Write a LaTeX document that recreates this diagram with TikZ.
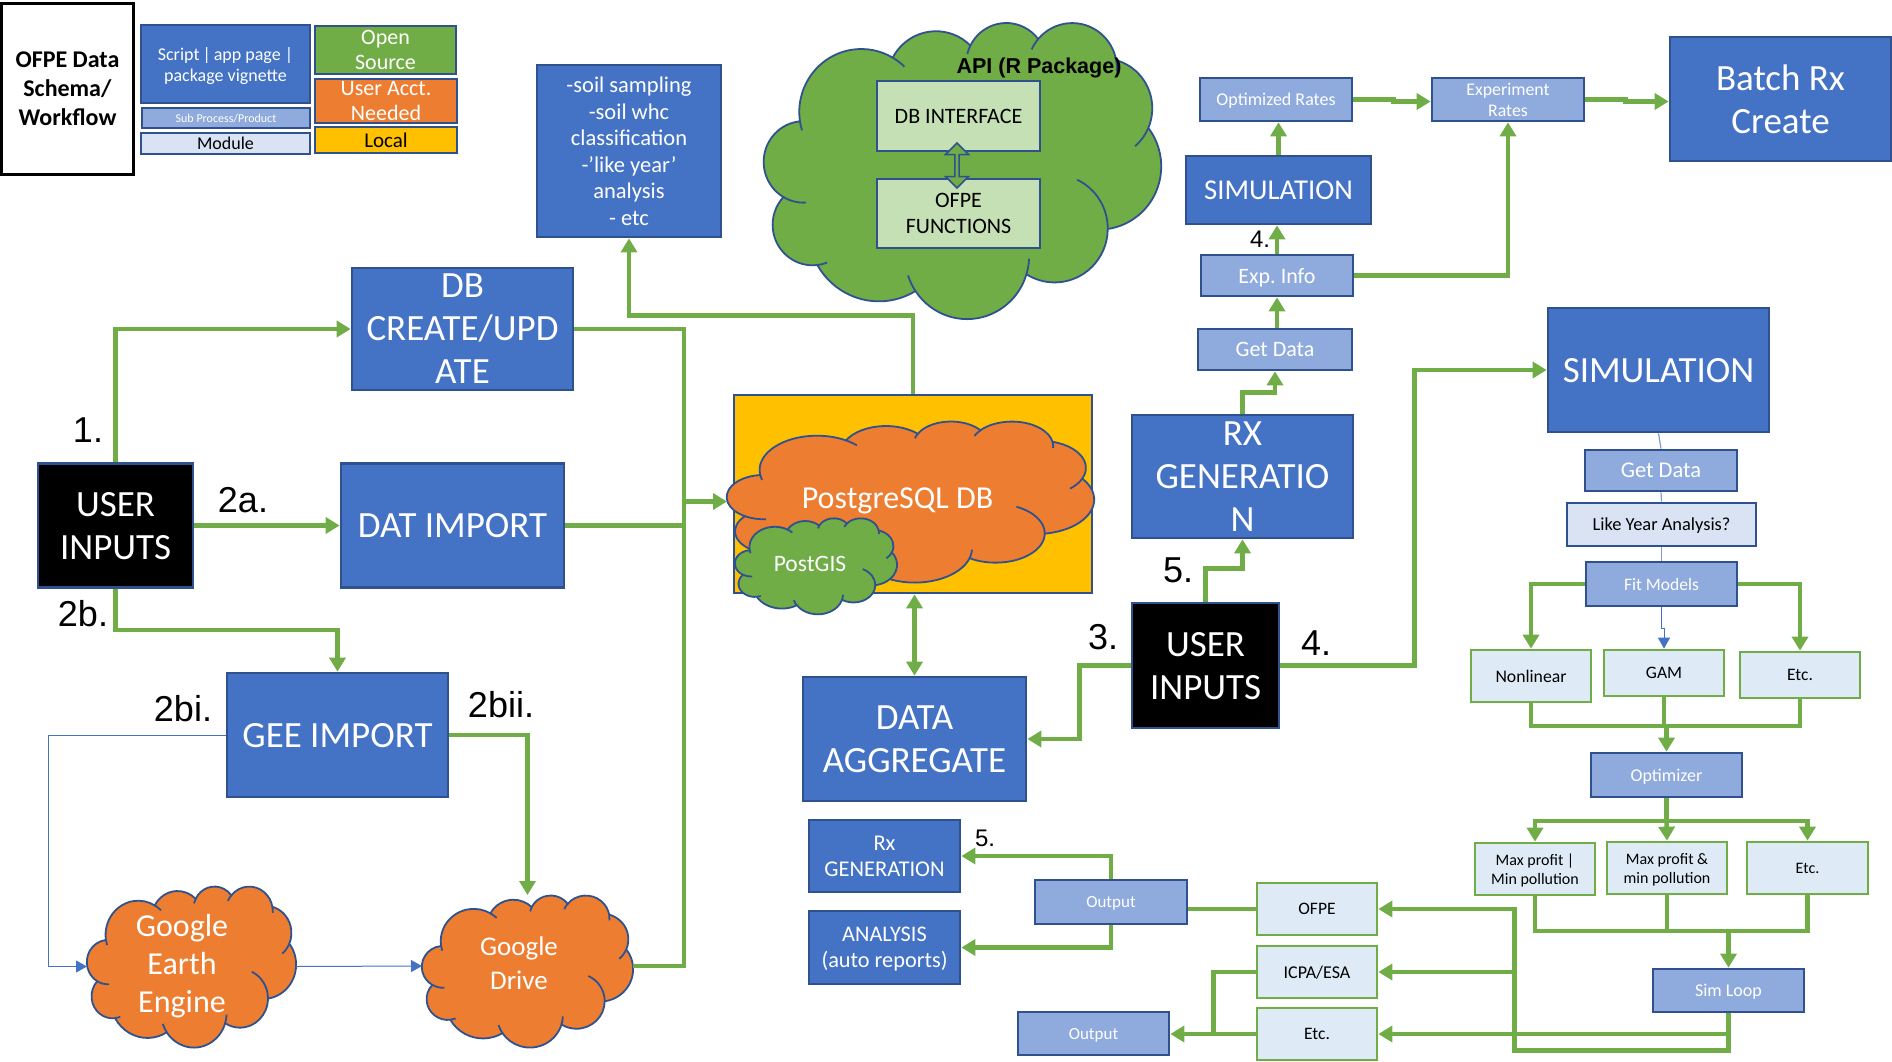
\documentclass[tikz,border=0pt]{standalone}
\usepackage{fontspec}
\setmainfont{Carlito}
\newfontfamily\arialfont{Liberation Sans}
\usetikzlibrary{arrows.meta,calc,shapes.arrows}
\definecolor{mainblue}{HTML}{4472C4}
\definecolor{edgeblue}{HTML}{2F528F}
\definecolor{subblue}{HTML}{8FAADC}
\definecolor{modblue}{HTML}{DAE3F3}
\definecolor{paleblue}{HTML}{DEEBF7}
\definecolor{flowgreen}{HTML}{70AD47}
\definecolor{palegreen}{HTML}{C5E0B4}
\definecolor{dborange}{HTML}{ED7D31}
\definecolor{localgold}{HTML}{FFC000}
\tikzset{
	txt/.style 2 args={font=\fontsize{#1}{#2}\selectfont},
	anybox/.style={draw=edgeblue, line width=2.7pt, inner sep=0pt, align=center, text depth=-2.4pt},
	mainbox/.style={anybox, fill=mainblue, text=white},
	subbox/.style={anybox, fill=subblue, text=white},
	modbox/.style={anybox, fill=modblue, text=black},
	resultbox/.style={anybox, draw=flowgreen, fill=paleblue, text=black},
	blackbox/.style={anybox, fill=black, text=white},
	numlabel/.style={font=\arialfont\fontsize{#1}{#1}\selectfont, inner sep=0pt},
	cloudedge/.style={draw=edgeblue, line width=1.8pt},
	flowline/.style={draw=flowgreen, line width=4.5pt},
	flow/.style={flowline, -{Triangle[length=14pt,width=16pt]}},
	flowboth/.style={flowline, {Triangle[length=14pt,width=16pt]}-{Triangle[length=14pt,width=16pt]}},
	thinflow/.style={draw=mainblue, line width=1pt, -{Triangle[length=11pt,width=12pt]}},
	thinline/.style={draw=mainblue!70, line width=1.2pt}
}
% cloud outline: fill, top left corner, width and height, name
\def\cloudshape[#1](#2,#3)(#4,#5)#6{
	\node[minimum width=#4pt, minimum height=#5pt, inner sep=0pt, outer sep=0pt, anchor=north west] (#6) at (#2,#3) {};
	\begin{scope}[shift={(#2,#3)}, x=#4pt/432, y=-#5pt/432]
		\draw[cloudedge, fill=#1] (39,143.7) coordinate (cl0)
			arc (-187.74:-59.61:67.53 and 91.9) coordinate (cl1)
			arc (-152.02:-45.44:53.33 and 72.67) coordinate (cl2)
			arc (-153.48:-37.33:43.65 and 59.45) coordinate (cl3)
			arc (-139.72:-10.21:48.57 and 65.95) coordinate (cl4)
			arc (-74.78:23.21:53.33 and 72.73) coordinate (cl5)
			arc (-37.52:81.87:67.75 and 92.2) coordinate (cl6)
			arc (0.46:121.99:57.85 and 78.67) coordinate (cl7)
			arc (16.85:146.25:67.52 and 92.15) coordinate (cl8)
			arc (58.99:150.19:77.2 and 105.43) coordinate (cl9)
			arc (-276.69:-136.91:43.6 and 59.18) coordinate (cl10)
			arc (-239.68:-95.89:43.45 and 59.45) -- cycle;
		\draw[cloudedge] (cl0) arc (-187.74:-197:67.53 and 91.9);
		\draw[cloudedge] (cl1) arc (-59.61:-46:67.53 and 91.9);
		\draw[cloudedge] (cl2) arc (-153.48:-166:43.65 and 59.45);
		\draw[cloudedge] (cl3) arc (-139.72:-155.3:48.57 and 65.95);
		\draw[cloudedge] (cl4) arc (-10.21:4:48.57 and 65.95);
		\draw[cloudedge] (cl5) arc (23.21:49.6:53.33 and 72.73);
		\draw[cloudedge] (cl6) arc (0.46:-65:57.85 and 78.67);
		\draw[cloudedge] (cl7) arc (16.85:2.4:67.52 and 92.15);
		\draw[cloudedge] (cl8) arc (146.25:162:67.52 and 92.15);
		\draw[cloudedge] (cl9) arc (-276.69:-291.3:43.6 and 59.18);
		\draw[cloudedge] (cl10) arc (-239.68:-273.7:43.45 and 59.45);
	\end{scope}
}
\begin{document}
\begin{tikzpicture}[x=1pt, y=-1pt]
	\useasboundingbox (0,0) rectangle (1892,1062);
	
	%%%%% KEY %%%%%
	\node[draw=black, line width=3pt, fill=white, inner sep=0pt, align=center, text depth=-2pt, minimum width=132pt, minimum height=171pt, txt={24}{29}] (title) at (67.5,89) {\textbf{OFPE Data}\\\textbf{Schema/}\\\textbf{Workflow}};
	\node[mainbox, minimum width=169pt, minimum height=78pt, txt={18}{21}] (keyscript) at (225.5,64) {Script\,|\,app page |\\package vignette};
	\node[subbox, minimum width=168pt, minimum height=20pt, txt={12}{14}] (keysub) at (226,118) {Sub Process/Product};
	\node[modbox, minimum width=169pt, minimum height=21pt, txt={18}{20}] (keymod) at (225.5,143.5) {Module};
	\node[anybox, fill=flowgreen, text=white, minimum width=141pt, minimum height=48pt, txt={22}{25}] (keyopen) at (385.5,50) {Open\\Source};
	\node[anybox, fill=dborange, text=white, minimum width=142pt, minimum height=44pt, txt={22}{25}] (keyuser) at (386,101) {User Acct.\\Needed};
	\node[anybox, fill=localgold, text=black, minimum width=142pt, minimum height=26pt, txt={21}{23}] (keylocal) at (386,140) {Local};
	
	%%%%% LEFT %%%%%
	\node[blackbox, minimum width=155pt, minimum height=124pt, txt={37}{43}] (usera) at (115.5,525.5) {USER\\INPUTS};
	\node[mainbox, minimum width=221pt, minimum height=122pt, txt={37}{43}] (dbcreate) at (462.5,329) {DB\\CREATE/UPD\\ATE};
	\node[mainbox, minimum width=223pt, minimum height=124pt, txt={37}{43}] (datimport) at (452.5,525.5) {DAT IMPORT};
	\node[mainbox, minimum width=221pt, minimum height=124pt, txt={37}{43}] (gee) at (337.5,735) {GEE IMPORT};
	\cloudshape[dborange](87,886)(209,161){earth}
	\cloudshape[dborange](422,895)(211,152){drive}
	\node[text=white, align=center, txt={32}{38}] (earthtxt) at (182,966.5) {Google\\Earth\\Engine};
	\node[text=white, align=center, txt={27}{34}] (drivetxt) at (519,963) {Google\\Drive};
	\coordinate (drivein) at (422,966);
	\coordinate (driveout) at (633,966);
	\coordinate (busbot) at (684,966);
	
	%%%%% MIDDLE %%%%%
	\node[mainbox, minimum width=184pt, minimum height=172pt, txt={22.5}{26.5}] (soil) at (629,151) {-soil sampling\\-soil whc\\classification\\-’like year’\\analysis\\- etc};
	\cloudshape[flowgreen](764,22)(397,296){api}
	\node[anybox, fill=palegreen, minimum width=163pt, minimum height=70pt, txt={22}{26}] (dbiface) at (958.5,116) {DB INTERFACE};
	\node[anybox, fill=palegreen, minimum width=163pt, minimum height=69pt, txt={22}{26}] (ofpefn) at (958.5,213.5) {OFPE\\FUNCTIONS};
	\node[double arrow, double arrow head extend=3.5pt, draw=edgeblue, line width=1.5pt, fill=flowgreen, rotate=90, inner sep=0pt, minimum height=45pt, minimum width=23pt] (apilink) at (957,165.5) {};
	\node[font=\arialfont\bfseries\fontsize{21.5}{24}\selectfont, inner sep=0pt] (apitxt) at (1039,67.5) {API (R Package)};
	
	\node[anybox, fill=localgold, minimum width=358pt, minimum height=198pt] (dbbox) at (913,494) {};
	\cloudshape[dborange](727,421)(367,161){pgdb}
	\cloudshape[flowgreen](735,518)(162,96){postgis}
	\node[text=white, txt={32}{36}, inner sep=0pt] (pgtxt) at (897.5,500.5) {PostgreSQL DB};
	\node[text=white, txt={23.5}{26}, inner sep=0pt] (gistxt) at (810,564) {PostGIS};
	
	\node[mainbox, minimum width=223pt, minimum height=124pt, txt={37}{43}] (aggr) at (914.5,739) {DATA\\AGGREGATE};
	\node[blackbox, minimum width=147pt, minimum height=125pt, txt={37}{43}] (userb) at (1205.5,665.5) {USER\\INPUTS};
	\node[mainbox, minimum width=221pt, minimum height=123pt, txt={37}{43}] (rxgen) at (1242.5,476.5) {RX\\GENERATIO\\N};
	
	%%%%% TOP RIGHT %%%%%
	\node[subbox, minimum width=152pt, minimum height=43pt, txt={18}{21}] (optrates) at (1276,99.5) {Optimized Rates};
	\node[subbox, minimum width=152pt, minimum height=43pt, txt={17.8}{21}] (exprates) at (1508,99.5) {Experiment\\Rates};
	\node[mainbox, minimum width=221pt, minimum height=124pt, txt={37}{43}] (batch) at (1780.5,99) {Batch Rx\\Create};
	\node[mainbox, minimum width=185pt, minimum height=68pt, txt={28.7}{32}] (simtop) at (1278.5,190) {SIMULATION};
	\node[subbox, minimum width=152pt, minimum height=41pt, txt={22}{25}] (expinfo) at (1277,275.5) {Exp.\ Info};
	\node[subbox, minimum width=154pt, minimum height=41pt, txt={22}{25}] (getdata) at (1275,349.5) {Get Data};
	
	%%%%% RIGHT %%%%%
	\node[mainbox, minimum width=221pt, minimum height=124pt, txt={37}{43}] (simright) at (1658.5,370) {SIMULATION};
	\node[subbox, minimum width=152pt, minimum height=41pt, txt={22.5}{25}] (rgetdata) at (1661,470.5) {Get Data};
	\node[modbox, minimum width=189pt, minimum height=43pt, txt={18.4}{20}] (likeyear) at (1661.5,524.5) {Like Year Analysis?};
	\node[subbox, minimum width=151pt, minimum height=44pt, txt={17.5}{20}] (fit) at (1661.5,584) {Fit Models};
	\node[resultbox, minimum width=120pt, minimum height=52pt, txt={17.7}{20}] (nonlin) at (1531,676) {Nonlinear};
	\node[resultbox, minimum width=120pt, minimum height=46pt, txt={17.5}{20}] (gam) at (1664,673) {GAM};
	\node[resultbox, minimum width=120pt, minimum height=46pt, txt={17.5}{20}] (etca) at (1800,675) {Etc.};
	\node[subbox, minimum width=151pt, minimum height=44pt, txt={18}{20}] (optimizer) at (1666.5,775) {Optimizer};
	\node[resultbox, minimum width=120pt, minimum height=52pt, txt={16}{19}] (maxa) at (1535,869) {Max profit |\\Min pollution};
	\node[resultbox, minimum width=120pt, minimum height=52pt, txt={16}{19}] (maxb) at (1667,868) {Max profit \&\\min pollution};
	\node[resultbox, minimum width=121pt, minimum height=52pt, txt={16}{19}] (etcb) at (1807.5,868) {Etc.};
	\node[subbox, minimum width=151pt, minimum height=43pt, txt={18}{20}] (simloop) at (1728.5,990.5) {Sim Loop};
	
	%%%%% BOTTOM %%%%%
	\node[mainbox, minimum width=151pt, minimum height=72pt, txt={22.5}{26}] (rxgenb) at (884.5,856) {Rx\\GENERATION};
	\node[mainbox, minimum width=151pt, minimum height=73pt, txt={22.3}{26}] (analysis) at (884.5,947.5) {ANALYSIS\\(auto reports)};
	\node[subbox, minimum width=152pt, minimum height=44pt, txt={17}{20}] (outputa) at (1111,902) {Output};
	\node[subbox, minimum width=151pt, minimum height=43pt, txt={17}{20}] (outputb) at (1093.5,1033.5) {Output};
	\node[resultbox, minimum width=120pt, minimum height=52pt, txt={17.5}{20}] (ofpe) at (1317,909) {OFPE};
	\node[resultbox, minimum width=120pt, minimum height=52pt, txt={18}{20}] (icpa) at (1317,972) {ICPA/ESA};
	\node[resultbox, minimum width=120pt, minimum height=52pt, txt={17.5}{20}] (etcc) at (1317,1034) {Etc.};
	
	%%%%% NUMBERS %%%%%
	\node[numlabel=36] (nuone) at (88,430) {1.};
	\node[numlabel=36] (nutwoa) at (243,500) {2a.};
	\node[numlabel=36] (nutwob) at (83,614) {2b.};
	\node[numlabel=36] (nutwobi) at (183,709) {2bi.};
	\node[numlabel=36] (nutwobii) at (501,705) {2bii.};
	\node[numlabel=36] (nuthree) at (1103,637) {3.};
	\node[numlabel=36] (nufour) at (1316,643) {4.};
	\node[numlabel=36] (nufive) at (1178,570) {5.};
	\node[numlabel=24] (nufourb) at (1260,239) {4.};
	\node[numlabel=24] (nufiveb) at (985,838) {5.};
	
	%%%%% LEFT CONNECTORS %%%%%
	\draw[flow] (usera.north) |- (dbcreate.west);
	\draw[flow] (usera.east) -- (datimport.west);
	\draw[flow] (usera.south) -- ++(0,41) -| (gee.north);
	\draw[thinflow] (gee.west) -- ++(-177,0) |- (earth.west);
	\draw[thinflow] (earth.east) -- (drivein);
	\draw[flow] (gee.east) -| (drive.north);
	\draw[flowline] (driveout) -- (busbot) -- (busbot |- dbcreate.east) -- (dbcreate.east);
	\draw[flowline] (datimport.east) -- (busbot |- datimport.east);
	\draw[flow] (busbot |- pgdb.west) -- (pgdb.west);
	
	%%%%% MIDDLE CONNECTORS %%%%%
	\draw[flow] (dbbox.north) -- ++(0,-78) -| (soil.south);
	\draw[flowboth] (aggr.north) -- (aggr.north |- dbbox.south);
	\draw[flow] (userb.west) -- ++(-51,0) |- (aggr.east);
	\draw[flow] (userb.north) -- ++(0,-33) -| (rxgen.south);
	\draw[flow] (userb.east) -- ++(134,0) |- (simright.west);
	
	%%%%% TOP RIGHT CONNECTORS %%%%%
	\draw[flow] (rxgen.north) -- ++(0,-21) -| (getdata.south);
	\draw[flow] (expinfo.south |- getdata.north) -- (expinfo.south);
	\draw[flow] (expinfo.north) -- (expinfo.north |- simtop.south);
	\draw[flow] (simtop.north) -- (simtop.north |- optrates.south);
	\draw[flow] (expinfo.east) -| (exprates.south);
	\draw[flow] (optrates.east) -- ++(40,0) -- ++(0,2) -- ($(exprates.west)+(0,2)$);
	\draw[flow] (exprates.east) -- ++(40,0) -- ++(0,2) -- ($(batch.west)+(0,2.5)$);
	
	%%%%% RIGHT CONNECTORS %%%%%
	\draw[thinline] (simright.south) -- (rgetdata.north);
	\draw[thinline] (rgetdata.south) -- (likeyear.north);
	\draw[thinline] (likeyear.south) -- (fit.north);
	\draw[flow] (fit.west) -| (nonlin.north);
	\draw[flow] (fit.east) -| (etca.north);
	\draw[thinflow] (fit.south) -- ++(0,21) -| (gam.north);
	\coordinate (fitjoin) at (1666.5,726);
	\draw[flow] (nonlin.south) |- (fitjoin) -- (optimizer.north);
	\draw[flowline] (etca.south) |- (fitjoin);
	\draw[flowline] (gam.south) -- (gam.south |- fitjoin);
	\coordinate (optjoin) at (1666.5,821);
	\draw[flowline] (optimizer.south) -- (optjoin);
	\draw[flow] (optjoin) -| (maxa.north);
	\draw[flow] (optjoin) -| (etcb.north);
	\draw[flow] (optjoin) -- (maxb.north);
	\coordinate (maxjoin) at (1728.5,931);
	\draw[flowline] (maxa.south) |- (maxjoin);
	\draw[flowline] (etcb.south) |- (maxjoin);
	\draw[flowline] (maxb.south) -- (maxb.south |- maxjoin);
	\draw[flow] (maxjoin) -- (simloop.north);
	
	%%%%% BOTTOM CONNECTORS %%%%%
	\draw[flow] (simloop.south) -- ++(0,37) -- ++(-214,0) |- (ofpe.east);
	\coordinate (simbus) at (1514.5,972);
	\draw[flow] (simbus) -- (icpa.east);
	\draw[flow] (simloop.south |- etcc.east) -- (etcc.east);
	\draw[flowline] (ofpe.west) -- (ofpe.west -| outputa.east);
	\draw[flow] (outputa.north) |- (rxgenb.east);
	\draw[flow] (outputa.south) |- (analysis.east);
	\draw[flowline] (icpa.west) -- ++(-42,0) -- ++(0,62);
	\draw[flow] (etcc.west) -- (etcc.west -| outputb.east);
\end{tikzpicture}
\end{document}
